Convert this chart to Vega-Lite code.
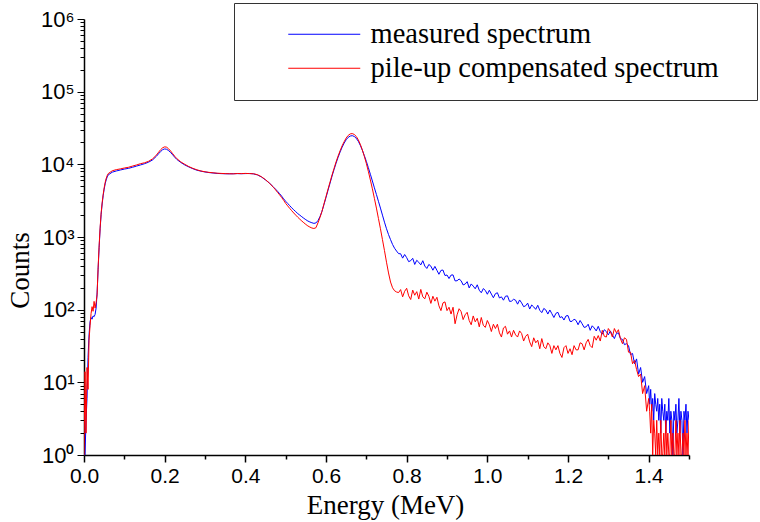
{
  "$schema": "https://vega.github.io/schema/vega-lite/v6.json",
  "width": 605,
  "height": 436,
  "autosize": "none",
  "padding": {"left": 84, "top": 19, "right": 71, "bottom": 67},
  "background": "white",
  "config": {"view": {"stroke": null}},
  "data": {"values": [
{"E":0.0,"m":1,"p":1},{"E":0.0025,"m":1,"p":14},{"E":0.005,"m":3,"p":2},{"E":0.0075,"m":6,"p":16},{"E":0.01,"m":22,"p":8},{"E":0.0125,"m":45,"p":38},{"E":0.015,"m":68,"p":60},{"E":0.0175,"m":78,"p":88},{"E":0.02,"m":74,"p":110},{"E":0.0225,"m":82,"p":95},{"E":0.025,"m":80,"p":130},{"E":0.0275,"m":86,"p":105},{"E":0.03,"m":105,"p":125},{"E":0.0325,"m":170,"p":160},{"E":0.035,"m":360,"p":380},{"E":0.0375,"m":720,"p":760},{"E":0.04,"m":1300,"p":1350},{"E":0.0425,"m":2050,"p":2150},{"E":0.045,"m":2850,"p":2950},{"E":0.0475,"m":3700,"p":3850},{"E":0.05,"m":4550,"p":4750},{"E":0.0525,"m":5400,"p":5650},{"E":0.055,"m":6100,"p":6400},{"E":0.0575,"m":6700,"p":7000},{"E":0.06,"m":7150,"p":7450},
{"E":0.07,"m":7800,"p":8150},{"E":0.08,"m":8100,"p":8450},{"E":0.09,"m":8350,"p":8650},{"E":0.1,"m":8600,"p":8900},{"E":0.11,"m":8800,"p":9100},{"E":0.12,"m":9100,"p":9450},{"E":0.13,"m":9450,"p":9800},{"E":0.14,"m":9800,"p":10200},{"E":0.15,"m":10200,"p":10500},{"E":0.16,"m":10700,"p":11000},{"E":0.17,"m":11500,"p":11900},{"E":0.18,"m":13000,"p":13500},{"E":0.185,"m":14000,"p":14700},{"E":0.19,"m":15000,"p":15900},{"E":0.195,"m":15900,"p":16900},{"E":0.2,"m":16300,"p":17400},{"E":0.205,"m":16100,"p":17200},{"E":0.21,"m":15400,"p":16300},{"E":0.215,"m":14500,"p":15200},{"E":0.22,"m":13500,"p":14000},{"E":0.225,"m":12500,"p":12900},{"E":0.23,"m":11700,"p":12000},{"E":0.24,"m":10600,"p":10800},{"E":0.25,"m":9800,"p":10000},{"E":0.26,"m":9200,"p":9300},{"E":0.27,"m":8700,"p":8800},{"E":0.28,"m":8300,"p":8400},{"E":0.29,"m":8050,"p":8100},{"E":0.3,"m":7850,"p":7900},{"E":0.31,"m":7700,"p":7750},{"E":0.32,"m":7600,"p":7650},{"E":0.33,"m":7500,"p":7550},{"E":0.34,"m":7450,"p":7500},{"E":0.35,"m":7420,"p":7450},{"E":0.36,"m":7400,"p":7430},{"E":0.37,"m":7420,"p":7400},{"E":0.38,"m":7450,"p":7480},{"E":0.39,"m":7430,"p":7450},{"E":0.4,"m":7460,"p":7500},{"E":0.41,"m":7480,"p":7460},{"E":0.42,"m":7400,"p":7420},{"E":0.43,"m":7150,"p":7200},{"E":0.44,"m":6700,"p":6750},{"E":0.45,"m":6100,"p":6150},{"E":0.46,"m":5500,"p":5500},{"E":0.47,"m":4850,"p":4800},
{"E":0.475,"m":4550,"p":4450},{"E":0.48,"m":4250,"p":4100},{"E":0.485,"m":3950,"p":3800},{"E":0.49,"m":3650,"p":3500},{"E":0.495,"m":3350,"p":3200},{"E":0.5,"m":3100,"p":2900},{"E":0.505,"m":2900,"p":2680},{"E":0.51,"m":2700,"p":2480},{"E":0.515,"m":2520,"p":2300},{"E":0.52,"m":2370,"p":2140},{"E":0.525,"m":2230,"p":2000},{"E":0.53,"m":2100,"p":1870},{"E":0.535,"m":2000,"p":1760},{"E":0.54,"m":1900,"p":1660},{"E":0.545,"m":1810,"p":1570},{"E":0.55,"m":1730,"p":1490},{"E":0.555,"m":1660,"p":1420},{"E":0.56,"m":1610,"p":1370},{"E":0.565,"m":1570,"p":1330},{"E":0.57,"m":1540,"p":1310},{"E":0.575,"m":1560,"p":1340},{"E":0.58,"m":1680,"p":1560},{"E":0.585,"m":1900,"p":1850},{"E":0.59,"m":2250,"p":2250},{"E":0.595,"m":2800,"p":2850},{"E":0.6,"m":3500,"p":3600},{"E":0.605,"m":4400,"p":4550},{"E":0.61,"m":5500,"p":5700},{"E":0.615,"m":6900,"p":7150},{"E":0.62,"m":8500,"p":8800},{"E":0.625,"m":10400,"p":10800},{"E":0.63,"m":12500,"p":13000},{"E":0.635,"m":14800,"p":15400},{"E":0.64,"m":17200,"p":18000},{"E":0.645,"m":19600,"p":20500},{"E":0.65,"m":21800,"p":23000},{"E":0.655,"m":23500,"p":25000},{"E":0.66,"m":24500,"p":26200},{"E":0.665,"m":24800,"p":26500},{"E":0.67,"m":24200,"p":25800},{"E":0.675,"m":22800,"p":24200},{"E":0.68,"m":20800,"p":21800},{"E":0.685,"m":18300,"p":18900},{"E":0.69,"m":15700,"p":15800},{"E":0.695,"m":13200,"p":12900},{"E":0.7,"m":11000,"p":10300},{"E":0.705,"m":9000,"p":8000},{"E":0.71,"m":7300,"p":6100},{"E":0.715,"m":5900,"p":4600},{"E":0.72,"m":4750,"p":3400},{"E":0.725,"m":3850,"p":2500},{"E":0.73,"m":3100,"p":1800},{"E":0.735,"m":2500,"p":1300},{"E":0.74,"m":2000,"p":920},{"E":0.745,"m":1600,"p":650},{"E":0.75,"m":1300,"p":450},{"E":0.755,"m":1080,"p":320},{"E":0.76,"m":920,"p":240},{"E":0.765,"m":790,"p":200},{"E":0.77,"m":700,"p":182},{"E":0.775,"m":640,"p":175},{"E":0.78,"m":590,"p":172},
{"E":0.785,"m":588,"p":189},{"E":0.79,"m":512,"p":150},{"E":0.795,"m":574,"p":179},{"E":0.8,"m":520,"p":197},{"E":0.805,"m":458,"p":155},{"E":0.81,"m":472,"p":138},{"E":0.815,"m":509,"p":186},{"E":0.82,"m":419,"p":158},{"E":0.825,"m":478,"p":177},{"E":0.83,"m":449,"p":140},{"E":0.835,"m":413,"p":190},{"E":0.84,"m":472,"p":150},{"E":0.845,"m":398,"p":141},{"E":0.85,"m":369,"p":174},{"E":0.855,"m":419,"p":153},{"E":0.86,"m":397,"p":122},{"E":0.865,"m":349,"p":153},{"E":0.87,"m":394,"p":131},{"E":0.875,"m":348,"p":148},{"E":0.88,"m":307,"p":113},{"E":0.885,"m":347,"p":97},{"E":0.89,"m":351,"p":124},{"E":0.895,"m":295,"p":128},{"E":0.9,"m":300,"p":97},{"E":0.905,"m":268,"p":108},{"E":0.91,"m":299,"p":87},{"E":0.915,"m":301,"p":108},{"E":0.92,"m":249,"p":64},{"E":0.925,"m":250,"p":85},{"E":0.93,"m":264,"p":103},{"E":0.935,"m":250,"p":94},{"E":0.94,"m":219,"p":73},{"E":0.945,"m":225,"p":85},{"E":0.95,"m":243,"p":92},{"E":0.955,"m":199,"p":71},{"E":0.96,"m":226,"p":62},{"E":0.965,"m":211,"p":82},{"E":0.97,"m":194,"p":68},{"E":0.975,"m":220,"p":76},{"E":0.98,"m":185,"p":58},{"E":0.985,"m":171,"p":78},{"E":0.99,"m":195,"p":61},{"E":0.995,"m":184,"p":57},{"E":1.0,"m":163,"p":71},{"E":1.005,"m":185,"p":62},{"E":1.01,"m":164,"p":50},{"E":1.015,"m":146,"p":63},{"E":1.02,"m":166,"p":55},{"E":1.025,"m":171,"p":63},{"E":1.03,"m":145,"p":48},{"E":1.035,"m":150,"p":42},{"E":1.04,"m":135,"p":56},{"E":1.045,"m":153,"p":59},{"E":1.05,"m":155,"p":46},{"E":1.055,"m":130,"p":51},{"E":1.06,"m":131,"p":42},{"E":1.065,"m":139,"p":52},{"E":1.07,"m":135,"p":45},{"E":1.075,"m":119,"p":42},{"E":1.08,"m":136,"p":51},{"E":1.085,"m":124,"p":47},{"E":1.09,"m":110,"p":37},{"E":1.095,"m":113,"p":43},{"E":1.1,"m":123,"p":46},{"E":1.105,"m":102,"p":36},{"E":1.11,"m":116,"p":31},{"E":1.115,"m":109,"p":41},{"E":1.12,"m":101,"p":35},{"E":1.125,"m":115,"p":38},{"E":1.13,"m":98,"p":29},{"E":1.135,"m":91,"p":40},{"E":1.14,"m":104,"p":31},{"E":1.145,"m":99,"p":29},{"E":1.15,"m":87,"p":35},{"E":1.155,"m":99,"p":32},{"E":1.16,"m":88,"p":25},{"E":1.165,"m":78,"p":32},{"E":1.17,"m":89,"p":28},{"E":1.175,"m":92,"p":32},{"E":1.18,"m":78,"p":25},{"E":1.185,"m":80,"p":22},{"E":1.19,"m":72,"p":30},{"E":1.195,"m":82,"p":32},{"E":1.2,"m":83,"p":25},{"E":1.205,"m":69,"p":29},{"E":1.21,"m":69,"p":24},{"E":1.215,"m":74,"p":32},{"E":1.22,"m":71,"p":28},{"E":1.225,"m":62,"p":28},{"E":1.23,"m":71,"p":35},{"E":1.235,"m":64,"p":34},{"E":1.24,"m":57,"p":28},{"E":1.245,"m":58,"p":35},{"E":1.25,"m":63,"p":39},{"E":1.255,"m":52,"p":32},{"E":1.26,"m":60,"p":30},{"E":1.265,"m":56,"p":43},{"E":1.27,"m":51,"p":38},{"E":1.275,"m":59,"p":44},{"E":1.28,"m":50,"p":37},{"E":1.285,"m":46,"p":52},{"E":1.29,"m":53,"p":43},{"E":1.295,"m":50,"p":42},{"E":1.3,"m":45,"p":55},{"E":1.305,"m":51,"p":50},{"E":1.31,"m":45,"p":42},{"E":1.315,"m":40,"p":55},{"E":1.32,"m":47,"p":48},{"E":1.325,"m":48,"p":53},{"E":1.33,"m":40,"p":40},{"E":1.335,"m":39,"p":34},{"E":1.34,"m":33,"p":41},{"E":1.345,"m":34,"p":39},{"E":1.35,"m":32,"p":26},{"E":1.355,"m":24,"p":26},{"E":1.36,"m":25,"p":18},{"E":1.365,"m":18,"p":20},{"E":1.37,"m":21,"p":15},{"E":1.375,"m":13,"p":12},{"E":1.38,"m":16,"p":13},{"E":1.385,"m":10,"p":7},{"E":1.39,"m":12,"p":9},{"E":1.395,"m":7,"p":4},{"E":1.4,"m":9,"p":6},
{"E":1.4025,"m":5,"p":4},{"E":1.405,"m":8,"p":2},{"E":1.4075,"m":4,"p":5},{"E":1.41,"m":6,"p":1},{"E":1.4125,"m":3,"p":3},{"E":1.415,"m":7,"p":2},{"E":1.4175,"m":5,"p":1},{"E":1.42,"m":4,"p":3},{"E":1.4225,"m":6,"p":1},{"E":1.425,"m":3,"p":2},{"E":1.4275,"m":5,"p":1},{"E":1.43,"m":2,"p":3},{"E":1.4325,"m":6,"p":1},{"E":1.435,"m":4,"p":1},{"E":1.4375,"m":3,"p":2},{"E":1.44,"m":5,"p":1},{"E":1.4425,"m":2,"p":3},{"E":1.445,"m":4,"p":1},{"E":1.4475,"m":3,"p":2},{"E":1.45,"m":6,"p":1},{"E":1.4525,"m":2,"p":1},{"E":1.455,"m":4,"p":3},{"E":1.4575,"m":3,"p":1},{"E":1.46,"m":1,"p":2},{"E":1.4625,"m":4,"p":1},{"E":1.465,"m":3,"p":1},{"E":1.4675,"m":5,"p":3},{"E":1.47,"m":2,"p":1},{"E":1.4725,"m":3,"p":2},{"E":1.475,"m":6,"p":1},{"E":1.4775,"m":2,"p":3},{"E":1.48,"m":4,"p":1},{"E":1.4825,"m":3,"p":1},{"E":1.485,"m":1,"p":2},{"E":1.4875,"m":4,"p":1},{"E":1.49,"m":3,"p":3},{"E":1.4925,"m":5,"p":1},{"E":1.495,"m":2,"p":2},{"E":1.4975,"m":4,"p":1},{"E":1.5,"m":3,"p":3}
  ]},
  "transform": [{"fold": ["m", "p"], "as": ["series", "count"]}],
  "mark": {"type": "line", "strokeWidth": 1, "clip": true},
  "encoding": {
    "x": {
      "field": "E", "type": "quantitative",
      "scale": {"domain": [0, 1.5], "nice": false, "zero": false},
      "axis": {
        "title": "Energy (MeV)",
        "values": [0,0.1,0.2,0.3,0.4,0.5,0.6,0.7,0.8,0.9,1.0,1.1,1.2,1.3,1.4,1.5],
        "labelExpr": "(round(datum.value*10) % 2 == 0 && datum.value < 1.45) ? format(datum.value, '.1f') : ''",
        "grid": false,
        "domainColor": "black", "domainWidth": 1.5,
        "tickColor": "black", "tickWidth": 1.5,
        "tickSize": {"condition": {"test": "round(datum.value*10) % 2 == 0", "value": 7}, "value": 4},
        "labelFont": "Liberation Sans", "labelFontSize": 21, "labelColor": "black", "labelPadding": 3,
        "labelOverlap": false, "labelFlush": false,
        "titleFont": "Liberation Serif", "titleFontSize": 27, "titleFontWeight": "normal", "titleColor": "black",
        "titleX": 301, "titleY": 50, "titleBaseline": "middle", "titleAlign": "center"
      }
    },
    "y": {
      "field": "count", "type": "quantitative",
      "scale": {"type": "log", "domain": [1, 1000000], "nice": false},
      "axis": {
        "title": "Counts",
        "values": [1,2,3,4,5,6,7,8,9,10,20,30,40,50,60,70,80,90,100,200,300,400,500,600,700,800,900,1000,2000,3000,4000,5000,6000,7000,8000,9000,10000,20000,30000,40000,50000,60000,70000,80000,90000,100000,200000,300000,400000,500000,600000,700000,800000,900000,1000000],
        "labelExpr": "abs(log(datum.value)/LN10 - round(log(datum.value)/LN10)) < 0.001 ? '10' + ['⁰','¹','²','³','⁴','⁵','⁶'][round(log(datum.value)/LN10)] : ''",
        "grid": false,
        "domainColor": "black", "domainWidth": 1.5,
        "tickColor": "black", "tickWidth": 1,
        "tickSize": {"condition": {"test": "abs(log(datum.value)/LN10 - round(log(datum.value)/LN10)) < 0.001", "value": 7}, "value": 4},
        "labelFont": "Liberation Sans", "labelFontSize": 22, "labelColor": "black", "labelPadding": 3,
        "labelOverlap": false, "labelFlush": false, "labelBound": false,
        "titleFont": "Liberation Serif", "titleFontSize": 27, "titleFontWeight": "normal", "titleColor": "black",
        "titleX": -64, "titleY": 251, "titleBaseline": "middle", "titleAlign": "center", "titleAngle": -90
      }
    },
    "color": {
      "field": "series", "type": "nominal",
      "scale": {"domain": ["m", "p"], "range": ["#0000ff", "#ff0000"]},
      "legend": {
        "title": null,
        "orient": "none", "legendX": 150, "legendY": -16,
        "labelExpr": "datum.value == 'm' ? 'measured spectrum' : 'pile-up compensated spectrum\u2800'",
        "labelFont": "Liberation Serif", "labelFontSize": 28.5, "labelColor": "black", "labelLimit": 700,
        "symbolType": "M-4,0H4", "symbolSize": 324, "symbolStrokeWidth": 1,
        "labelOffset": 32, "symbolOffset": 59,
        "padding": 17, "rowPadding": 5,
        "strokeColor": "#333333", "fillColor": "white"
      }
    }
  }
}
